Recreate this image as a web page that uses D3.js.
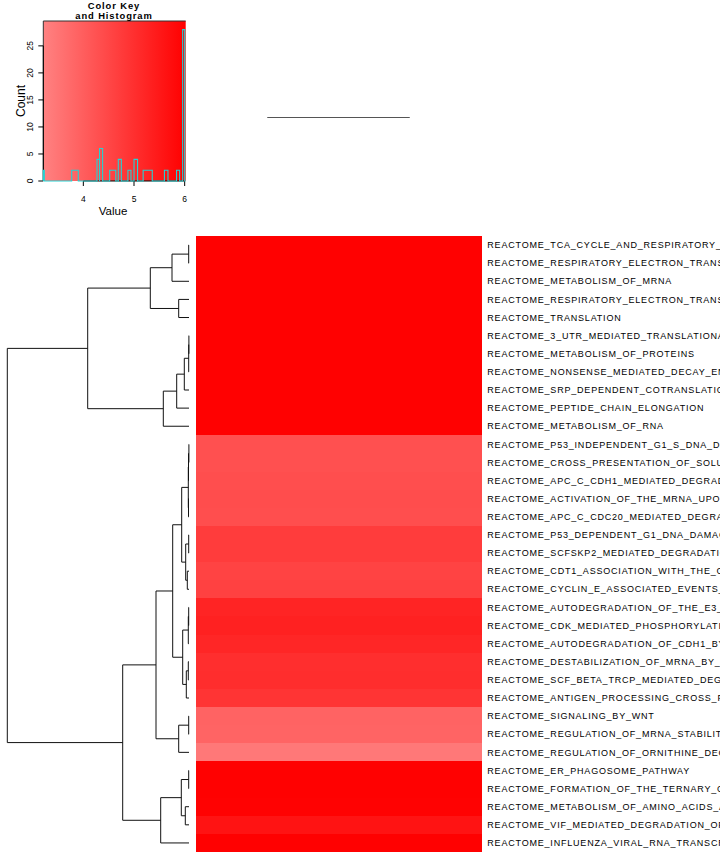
<!DOCTYPE html>
<html>
<head>
<meta charset="utf-8">
<script src="https://cdn.jsdelivr.net/npm/d3@7"></script>
<style>
  html, body { margin: 0; padding: 0; background: #fff; }
  svg { display: block; }
  text { font-family: "Liberation Sans", Arial, sans-serif; fill: #000; }
</style>
</head>
<body>
<div id="chart"></div>
<script>
// ---------------- data ----------------
const rowLabels = [
  "REACTOME_TCA_CYCLE_AND_RESPIRATORY_ELECTRON_TRANSPORT",
  "REACTOME_RESPIRATORY_ELECTRON_TRANSPORT_ATP_SYNTHESIS_BY_CHEMIOSMOTIC_COUPLING",
  "REACTOME_METABOLISM_OF_MRNA",
  "REACTOME_RESPIRATORY_ELECTRON_TRANSPORT",
  "REACTOME_TRANSLATION",
  "REACTOME_3_UTR_MEDIATED_TRANSLATIONAL_REGULATION",
  "REACTOME_METABOLISM_OF_PROTEINS",
  "REACTOME_NONSENSE_MEDIATED_DECAY_ENHANCED_BY_THE_EXON_JUNCTION_COMPLEX",
  "REACTOME_SRP_DEPENDENT_COTRANSLATIONAL_PROTEIN_TARGETING_TO_MEMBRANE",
  "REACTOME_PEPTIDE_CHAIN_ELONGATION",
  "REACTOME_METABOLISM_OF_RNA",
  "REACTOME_P53_INDEPENDENT_G1_S_DNA_DAMAGE_CHECKPOINT",
  "REACTOME_CROSS_PRESENTATION_OF_SOLUBLE_EXOGENOUS_ANTIGENS_ENDOSOMES",
  "REACTOME_APC_C_CDH1_MEDIATED_DEGRADATION_OF_CDC20",
  "REACTOME_ACTIVATION_OF_THE_MRNA_UPON_BINDING_OF_THE_CAP_BINDING_COMPLEX",
  "REACTOME_APC_C_CDC20_MEDIATED_DEGRADATION_OF_MITOTIC_PROTEINS",
  "REACTOME_P53_DEPENDENT_G1_DNA_DAMAGE_RESPONSE",
  "REACTOME_SCFSKP2_MEDIATED_DEGRADATION_OF_P27_P21",
  "REACTOME_CDT1_ASSOCIATION_WITH_THE_CDC6_ORC_ORIGIN_COMPLEX",
  "REACTOME_CYCLIN_E_ASSOCIATED_EVENTS_DURING_G1_S_TRANSITION_",
  "REACTOME_AUTODEGRADATION_OF_THE_E3_UBIQUITIN_LIGASE_COP1",
  "REACTOME_CDK_MEDIATED_PHOSPHORYLATION_AND_REMOVAL_OF_CDC6",
  "REACTOME_AUTODEGRADATION_OF_CDH1_BY_CDH1_APC_C",
  "REACTOME_DESTABILIZATION_OF_MRNA_BY_AUF1_HNRNP_D0",
  "REACTOME_SCF_BETA_TRCP_MEDIATED_DEGRADATION_OF_EMI1",
  "REACTOME_ANTIGEN_PROCESSING_CROSS_PRESENTATION",
  "REACTOME_SIGNALING_BY_WNT",
  "REACTOME_REGULATION_OF_MRNA_STABILITY_BY_PROTEINS_THAT_BIND_AU_RICH_ELEMENTS",
  "REACTOME_REGULATION_OF_ORNITHINE_DECARBOXYLASE_ODC",
  "REACTOME_ER_PHAGOSOME_PATHWAY",
  "REACTOME_FORMATION_OF_THE_TERNARY_COMPLEX_AND_SUBSEQUENTLY_THE_43S_COMPLEX",
  "REACTOME_METABOLISM_OF_AMINO_ACIDS_AND_DERIVATIVES",
  "REACTOME_VIF_MEDIATED_DEGRADATION_OF_APOBEC3G",
  "REACTOME_INFLUENZA_VIRAL_RNA_TRANSCRIPTION_AND_REPLICATION"
];
const columns = ["S1", "S2"];
const valuesS1 = [
  6.00, 6.00, 6.00, 6.00, 6.00, 6.00, 6.00, 6.00, 6.00, 6.00, 6.00,
  4.30, 4.30, 4.33, 4.35, 4.33,
  4.72, 4.72, 4.58, 4.62,
  5.25, 5.30, 5.20, 5.03, 5.05, 4.90,
  3.88, 3.85, 3.42,
  6.00, 6.00, 5.97, 5.62, 6.00
];
const valuesS2 = [
  6.00, 6.00, 6.00, 6.00, 6.00, 6.00, 6.00, 6.00, 6.00, 6.00, 6.00,
  4.30, 4.30, 4.33, 4.35, 4.33,
  4.72, 4.72, 4.58, 4.62,
  5.25, 5.30, 5.20, 5.03, 5.05, 4.90,
  3.88, 3.85, 3.42,
  6.00, 6.00, 5.97, 5.62, 6.00
];
// row dendrogram: internal node = [height, left, right]; leaf = row index
const rowTree = [181.7,
  [101.3,
    [38.7, [17.0, [0.3, 0, 1], 2], [10.3, 3, 4]],
    [25.7, [12.3, [4.7, [0.3, [0.1, 5, 6], 7], 8], 9], 10]
  ],
  [66.3,
    [33.0,
      [16.3,
        [7.3,
          [0.7, [0.5, [0.1, 11, 12], 13], [0.5, 14, 15]],
          [3.3, [0.3, 16, 17], [1.7, 18, 19]]
        ],
        [6.3,
          [0.7, [0.3, 20, 21], 22],
          [2.7, [0.7, 23, 24], 25]
        ]
      ],
      [10.3, [0.3, 26, 27], 28]
    ],
    [28.3, [7.7, [0.3, 29, 30], [3.7, 31, 32]], 33]
  ]
];
const colTreeHeight = 0;
// colour key histogram (bins read from the key)
const histLo    = [3.21, 3.77, 4.27, 4.32, 4.52, 4.69, 4.88, 5.00, 5.18, 5.60, 5.84, 5.96];
const histHi    = [3.23, 3.90, 4.32, 4.38, 4.64, 4.75, 4.94, 5.07, 5.36, 5.67, 5.90, 6.00];
const histCount = [2, 2, 4, 6, 2, 4, 2, 4, 2, 2, 2, 28];
const keyDomain = [3.21, 6.02];
const valueTicks = [4, 5, 6];
const countTicks = [0, 5, 10, 15, 20, 25];
const keyColors = ["#ff8282", "#ff0000"];

// ---------------- drawing ----------------
const W = 720, H = 864;
const svg = d3.select("#chart").append("svg").attr("width", W).attr("height", H);

const color = d3.scaleLinear().domain(keyDomain).range(keyColors).clamp(true);

// heatmap
const yRow = d3.scaleBand().domain(d3.range(rowLabels.length)).range([236, 852]);
const xCol = d3.scaleBand().domain(columns).range([196, 481]);
const colValues = {S1: valuesS1, S2: valuesS2};
const cells = [];
columns.forEach(c => colValues[c].forEach((v, i) => cells.push({c, i, v})));
svg.append("g").selectAll("rect").data(cells).join("rect")
  .attr("x", d => xCol(d.c)).attr("y", d => yRow(d.i))
  .attr("width", xCol.bandwidth() + 0.5).attr("height", yRow.bandwidth() + 0.3)
  .attr("fill", d => color(d.v))
  .attr("shape-rendering", "crispEdges");

// row labels
svg.append("g").selectAll("text").data(rowLabels).join("text")
  .attr("x", 487.3)
  .attr("y", (d, i) => yRow(i) + yRow.bandwidth() / 2 + 3.2)
  .attr("font-size", 9).attr("letter-spacing", 0.8)
  .text(d => d);

// row dendrogram
const xDen = d3.scaleLinear().domain([0, rowTree[0]]).range([189, 7.3]);
const dg = svg.append("g").attr("fill", "none").attr("stroke", "#111").attr("stroke-width", 1);
function drawNode(n) {
  if (typeof n === "number") return {y: yRow(n) + yRow.bandwidth() / 2, h: 0};
  const [h, l, r] = n;
  const a = drawNode(l), b = drawNode(r);
  const x = xDen(h);
  dg.append("path").attr("d",
    `M${xDen(a.h)},${a.y}H${x}V${b.y}H${xDen(b.h)}`);
  return {y: (a.y + b.y) / 2, h};
}
drawNode(rowTree);

// column dendrogram (two columns joined at height 0)
const yColDen = d3.scaleLinear().domain([-1, 1]).range([214, 21]);
svg.append("path")
  .attr("d", `M${xCol("S1") + xCol.bandwidth() / 2},${yColDen(colTreeHeight)}H${xCol("S2") + xCol.bandwidth() / 2}`)
  .attr("stroke", "#555").attr("stroke-width", 1.1).attr("fill", "none");

// ---------------- colour key ----------------
const kx = d3.scaleLinear().domain(keyDomain).range([43.3, 185.7]);
const ky = d3.scaleLinear().domain([0, 29.6]).range([181, 21]);
const defs = svg.append("defs");
const grad = defs.append("linearGradient").attr("id", "kg").attr("x1", "0%").attr("x2", "100%");
grad.append("stop").attr("offset", "0%").attr("stop-color", keyColors[0]);
grad.append("stop").attr("offset", "100%").attr("stop-color", keyColors[1]);
svg.append("rect").attr("x", kx(keyDomain[0])).attr("y", ky(29.6))
  .attr("width", kx(keyDomain[1]) - kx(keyDomain[0])).attr("height", ky(0) - ky(29.6))
  .attr("fill", "url(#kg)");

// frame
svg.append("path")
  .attr("d", `M${kx(keyDomain[0])},${ky(0)}V${ky(29.6)}H${kx(keyDomain[1])}`)
  .attr("stroke", "#333").attr("fill", "none").attr("stroke-width", 1);

// x axis
svg.append("path")
  .attr("d", `M${kx(valueTicks[0])},${ky(0)}H${kx(valueTicks[valueTicks.length - 1])}`)
  .attr("stroke", "#000").attr("fill", "none");
valueTicks.forEach(t => {
  svg.append("line").attr("x1", kx(t)).attr("x2", kx(t)).attr("y1", ky(0)).attr("y2", ky(0) + 5)
    .attr("stroke", "#000");
  svg.append("text").attr("x", kx(t)).attr("y", 201.5).attr("text-anchor", "middle")
    .attr("font-size", 8.5).text(t);
});
// y axis
svg.append("path")
  .attr("d", `M${kx(keyDomain[0])},${ky(countTicks[0])}V${ky(countTicks[countTicks.length - 1])}`)
  .attr("stroke", "#000").attr("fill", "none");
countTicks.forEach(t => {
  svg.append("line").attr("x1", kx(keyDomain[0]) - 5).attr("x2", kx(keyDomain[0]))
    .attr("y1", ky(t)).attr("y2", ky(t)).attr("stroke", "#000");
  svg.append("text").attr("transform", `translate(33.3,${ky(t)}) rotate(-90)`)
    .attr("text-anchor", "middle").attr("font-size", 8.5).text(t);
});

// histogram step line
let hp = `M${kx(keyDomain[0])},${ky(0)}`;
histLo.forEach((lo, i) => {
  hp += `H${kx(lo)}V${ky(histCount[i])}H${kx(histHi[i])}V${ky(0)}`;
});
hp += `H${kx(keyDomain[1])}`;
svg.append("path").attr("d", hp).attr("fill", "none")
  .attr("stroke", "#22d4d4").attr("stroke-width", 1.1);

// titles
svg.append("text").attr("x", 114).attr("y", 8.7).attr("text-anchor", "middle")
  .attr("font-size", 9.4).attr("font-weight", "bold").attr("letter-spacing", 0.9).text("Color Key");
svg.append("text").attr("x", 114).attr("y", 18.6).attr("text-anchor", "middle")
  .attr("font-size", 9.4).attr("font-weight", "bold").attr("letter-spacing", 0.9).text("and Histogram");
svg.append("text").attr("x", 113).attr("y", 215).attr("text-anchor", "middle")
  .attr("font-size", 11.5).text("Value");
svg.append("text").attr("transform", "translate(25,101) rotate(-90)")
  .attr("text-anchor", "middle").attr("font-size", 12).text("Count");
</script>
</body>
</html>
